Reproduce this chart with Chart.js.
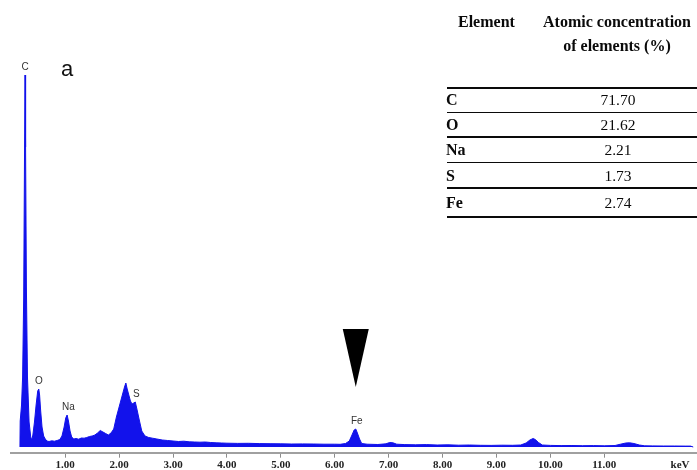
<!DOCTYPE html>
<html>
<head>
<meta charset="utf-8">
<script src="https://cdn.jsdelivr.net/npm/chart.js@4.4.1/dist/chart.umd.min.js"></script>
<style>
  body { margin: 0; background: #fff; }
  #wrap { position: relative; width: 697px; height: 470px; }
  #tbl { position: absolute; left: 0; top: 0; width: 697px; height: 470px; pointer-events: none;
         font-family: "Liberation Serif", "DejaVu Serif", serif; color: #0a0a0a; }
  #tbl div { position: absolute; white-space: nowrap; line-height: 20px; }
  .rule { background: #0a0a0a; left: 447px; width: 250px; }
</style>
</head>
<body>
<div id="wrap">
  <canvas id="eds" width="697" height="470"></canvas>
  <div id="tbl"></div>
</div>
<script>
// --- datos del espectro EDS (energía en keV, cuentas en unidades arbitrarias) ---
const energia = [
  0.16, 0.165, 0.19, 0.21, 0.23, 0.245, 0.255, 0.265, 0.28, 0.30, 0.33, 0.36, 0.38,
  0.40, 0.43, 0.46, 0.49, 0.51, 0.525, 0.545, 0.57, 0.60, 0.63, 0.66, 0.70, 0.75, 0.80,
  0.85, 0.90, 0.94, 0.98, 1.01, 1.035, 1.06, 1.09, 1.12, 1.16, 1.20, 1.25, 1.30, 1.35,
  1.40, 1.45, 1.50, 1.55, 1.60, 1.65, 1.70, 1.75, 1.80, 1.85, 1.90, 1.95, 2.00, 2.05,
  2.08, 2.10, 2.125, 2.15, 2.18, 2.21, 2.24, 2.27, 2.30, 2.33, 2.37, 2.42, 2.48, 2.55,
  2.62, 2.70, 2.80, 2.90, 3.00, 3.10, 3.20, 3.30, 3.40, 3.50, 3.60, 3.70, 3.80, 3.90,
  4.00, 4.20, 4.40, 4.60, 4.80, 5.00, 5.20, 5.40, 5.60, 5.80, 6.00, 6.10, 6.20, 6.27,
  6.32, 6.36, 6.39, 6.42, 6.46, 6.50, 6.60, 6.80, 6.95, 7.02, 7.08, 7.15, 7.30, 7.50,
  7.70, 7.90, 8.10, 8.30, 8.50, 8.70, 8.90, 9.10, 9.30, 9.45, 9.55, 9.62, 9.68, 9.72,
  9.78, 9.85, 10.0, 10.2, 10.4, 10.6, 10.8, 11.0, 11.2, 11.3, 11.4, 11.47, 11.55, 11.65,
  11.75, 11.9, 12.1, 12.3, 12.5, 12.6, 12.65
];
const cuentas = [
  0, 260, 420, 700, 1500, 2900, 3720, 3000, 1600, 700, 250, 100, 70,
  120, 250, 420, 560, 580, 520, 360, 200, 110, 80, 60, 55, 62, 58,
  65, 75, 110, 200, 290, 320, 260, 160, 100, 80, 85, 78, 90, 88,
  95, 105, 110, 120, 140, 165, 150, 135, 120, 140, 180, 300, 400, 500,
  560, 600, 640, 580, 520, 460, 430, 440, 450, 380, 280, 160, 110, 95,
  88, 80, 70, 65, 60, 55, 58, 52, 50, 48, 50, 45, 42, 40,
  38, 36, 37, 34, 33, 32, 30, 31, 30, 28, 28, 27, 35, 60,
  120, 170, 180, 140, 80, 35, 28, 25, 32, 45, 42, 28, 24, 22,
  24, 20, 22, 18, 20, 17, 16, 18, 17, 20, 40, 70, 85, 75,
  45, 20, 16, 14, 15, 13, 14, 12, 15, 28, 40, 42, 35, 20,
  12, 11, 10, 10, 9, 9, 0
];
const ticksKeV = [1, 2, 3, 4, 5, 6, 7, 8, 9, 10, 11];

// etiquetas de picos
const picoNombre = ['C', 'O', 'Na', 'S', 'Fe'];
const picoEnergia = [0.255, 0.51, 1.04, 2.32, 6.39];
const picoCuentas = [3720, 580, 320, 450, 180];

// flecha sobre el pico de Fe
const flechaE = 6.39, flechaPunta = 600, flechaTope = 1180;

// tabla de concentración atómica
const elementos = ['C', 'O', 'Na', 'S', 'Fe'];
const concentracion = ['71.70', '21.62', '2.21', '1.73', '2.74'];

// --- plugin de anotaciones ---
const anotaciones = {
  id: 'anotaciones',
  afterDatasetsDraw(chart) {
    const { ctx, scales: { x, y } } = chart;
    ctx.save();
    ctx.fillStyle = '#333';
    ctx.font = '10px "Liberation Sans", Arial, sans-serif';
    ctx.textAlign = 'center';
    ctx.textBaseline = 'middle';
    picoNombre.forEach((n, i) => {
      ctx.fillText(n, x.getPixelForValue(picoEnergia[i]) + (n === 'Na' || n === 'Fe' ? 1 : 0),
                   y.getPixelForValue(picoCuentas[i]) - 7.5);
    });
    // letra del panel
    ctx.fillStyle = '#111';
    ctx.font = '22px "Liberation Sans", Arial, sans-serif';
    ctx.fillText('a', x.getPixelForValue(1.035), 70);
    // flecha
    const fx = x.getPixelForValue(flechaE);
    ctx.fillStyle = '#000';
    ctx.beginPath();
    ctx.moveTo(fx - 13, y.getPixelForValue(flechaTope));
    ctx.lineTo(fx + 13, y.getPixelForValue(flechaTope));
    ctx.lineTo(fx, y.getPixelForValue(flechaPunta));
    ctx.closePath();
    ctx.fill();
    // unidad del eje
    ctx.fillStyle = '#222';
    ctx.font = 'bold 11px "Liberation Serif", serif';
    ctx.fillText('keV', 680, 465);
    ctx.restore();
  }
};

const ctx = document.getElementById('eds').getContext('2d');
const chartEDS = new Chart(ctx, {
  type: 'line',
  data: {
    datasets: [{
      data: energia.map((e, i) => ({ x: e, y: cuentas[i] })),
      borderColor: 'rgb(18,18,235)',
      backgroundColor: 'rgb(18,18,235)',
      borderWidth: 1,
      pointRadius: 0,
      tension: 0,
      fill: 'origin'
    }]
  },
  options: {
    responsive: false,
    animation: false,
    layout: { padding: { left: 11.3, right: 0, top: 75, bottom: 0 } },
    plugins: { legend: { display: false }, tooltip: { enabled: false } },
    scales: {
      x: {
        type: 'linear',
        min: 0,
        max: 12.72,
        afterBuildTicks: s => { s.ticks = ticksKeV.map(v => ({ value: v })); },
        afterFit: s => { s.height = 17.3; },
        ticks: {
          autoSkip: false,
          maxRotation: 0,
          padding: 1,
          color: '#222',
          font: { family: '"Liberation Serif", serif', size: 11, weight: 'bold' },
          callback: v => Number(v).toFixed(2)
        },
        grid: { drawOnChartArea: false, drawTicks: true, tickLength: 5, color: '#8c8c8c' },
        border: { display: true, color: '#a0a0a0', width: 2 }
      },
      y: { display: false, min: -57, max: 3720 }
    }
  },
  plugins: [anotaciones]
});

// --- tabla ---
const tbl = document.getElementById('tbl');
function add(html, css) {
  const d = document.createElement('div');
  d.innerHTML = html;
  Object.assign(d.style, css);
  tbl.appendChild(d);
  return d;
}
add('Element', { left: '458px', top: '12px', fontWeight: 'bold', fontSize: '16px' });
add('Atomic concentration', { left: '537px', width: '160px', textAlign: 'center', top: '12px', fontWeight: 'bold', fontSize: '16px' });
add('of elements (%)', { left: '537px', width: '160px', textAlign: 'center', top: '36px', fontWeight: 'bold', fontSize: '16px' });
const lineas = [88, 112.7, 137.3, 162.7, 188.3, 217];
lineas.forEach((t, i) => {
  const d = add('', { top: (t - 1) + 'px', height: (i === 0 || i === lineas.length - 1 ? 2.2 : 1.6) + 'px' });
  d.className = 'rule';
});
elementos.forEach((el, i) => {
  const mid = (lineas[i] + lineas[i + 1]) / 2;
  add(el, { left: '446px', top: (mid - 10) + 'px', fontWeight: 'bold', fontSize: '16px' });
  add(concentracion[i], { left: '540px', width: '156px', textAlign: 'center', top: (mid - 10) + 'px', fontSize: '15.5px' });
});
</script>
</body>
</html>
